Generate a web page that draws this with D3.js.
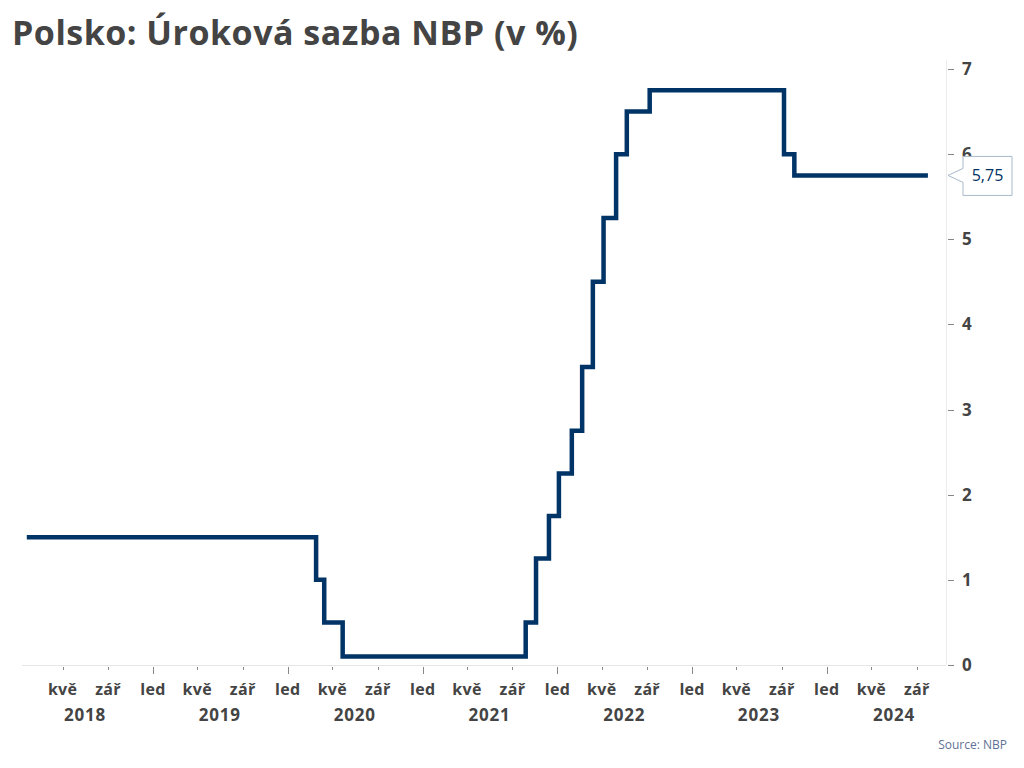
<!DOCTYPE html>
<html><head><meta charset="utf-8">
<script src="https://cdn.jsdelivr.net/npm/d3@7"></script>
<style>body{margin:0;background:#fff;font-family:"Open Sans",sans-serif;}</style>
</head><body><svg id="c" width="1024" height="768"></svg>
<script>
const title = "Polsko: Úroková sazba NBP (v %)";
const changeDates = ["2018-01-24","2020-03-18","2020-04-09","2020-05-29","2021-10-07","2021-11-04","2021-12-09","2022-01-05","2022-02-09","2022-03-09","2022-04-07","2022-05-06","2022-06-09","2022-07-08","2022-09-08","2023-09-07","2023-10-05","2024-10-01"];
const rates = [1.5,1.0,0.5,0.1,0.5,1.25,1.75,2.25,2.75,3.5,4.5,5.25,6.0,6.5,6.75,6.0,5.75,5.75];
const yTicks = [0,1,2,3,4,5,6,7];
const monthNames = {0:"led",4:"kvě",8:"zář"};
const years = [2018,2019,2020,2021,2022,2023,2024];
const lastLabel = "5,75";

const parse = d3.timeParse("%Y-%m-%d");
const data = changeDates.map((d,i)=>({date:parse(d), v:rates[i]}));
const svg = d3.select("#c");
const x = d3.scaleTime().domain([new Date(2018,0,11), new Date(2024,10,19)]).range([22,946]);
const y = d3.scaleLinear().domain([0,7]).range([665,69]);

svg.append("text").attr("x",12).attr("y",45).attr("font-size",34).attr("font-weight",700)
  .attr("letter-spacing",0.5).attr("fill","#444").text(title);

svg.append("line").attr("x1",22).attr("x2",946).attr("y1",665.5).attr("y2",665.5).attr("stroke","#e6e6e6");
svg.append("line").attr("x1",946.5).attr("x2",946.5).attr("y1",60).attr("y2",665).attr("stroke","#ececec");

const tickDates = d3.timeMonth.every(4).range(new Date(2018,0,1), new Date(2024,10,1)).filter(d=>x(d)>=22);
const xt = svg.append("g");
tickDates.forEach(d=>{
  const px = Math.round(x(d))+0.5;
  const major = d.getMonth()===0;
  xt.append("line").attr("x1",px).attr("x2",px).attr("y1",667).attr("y2",major?674:670).attr("stroke","#888");
  xt.append("text").attr("x",x(d)).attr("y",695).attr("text-anchor","middle").attr("font-size",16)
    .attr("font-weight",700).attr("letter-spacing",0.3).attr("fill","#444").text(monthNames[d.getMonth()]);
});
years.forEach(yr=>{
  xt.append("text").attr("x",x(new Date(yr,6,1))).attr("y",721).attr("text-anchor","middle").attr("font-size",17)
    .attr("font-weight",700).attr("letter-spacing",0.8).attr("fill","#444").text(yr);
});

const yt = svg.append("g");
yTicks.forEach(t=>{
  yt.append("line").attr("x1",948).attr("x2",954).attr("y1",Math.round(y(t))+0.5).attr("y2",Math.round(y(t))+0.5).attr("stroke","#888");
  yt.append("text").attr("x",962).attr("y",y(t)+6).attr("font-size",17).attr("font-weight",700).attr("fill","#444").text(t);
});

const line = d3.line().x(d=>x(d.date)).y(d=>y(d.v)).curve(d3.curveStepAfter);
svg.append("path").datum(data).attr("d",line).attr("fill","none").attr("stroke","#003366")
  .attr("stroke-width",4.5).attr("stroke-linejoin","miter");

const last = data[data.length-1];
const cy = y(last.v);
const bx=963, bw=49, bh=39, by=cy-19;
const p = `M${bx},${by} L${bx+bw},${by} L${bx+bw},${by+bh} L${bx},${by+bh} L${bx},${cy+7} L${948},${cy} L${bx},${cy-7} Z`;
svg.append("path").attr("d",p).attr("fill","#fff").attr("stroke","#a9b8cc").attr("stroke-width",1);
svg.append("text").attr("x",bx+bw/2).attr("y",cy+6).attr("text-anchor","middle").attr("font-size",16)
  .attr("fill","#003366").text(lastLabel);

svg.append("text").attr("x",1007).attr("y",749).attr("text-anchor","end").attr("font-size",12)
  .attr("fill","#5f7295").text("Source: NBP");
</script></body></html>
